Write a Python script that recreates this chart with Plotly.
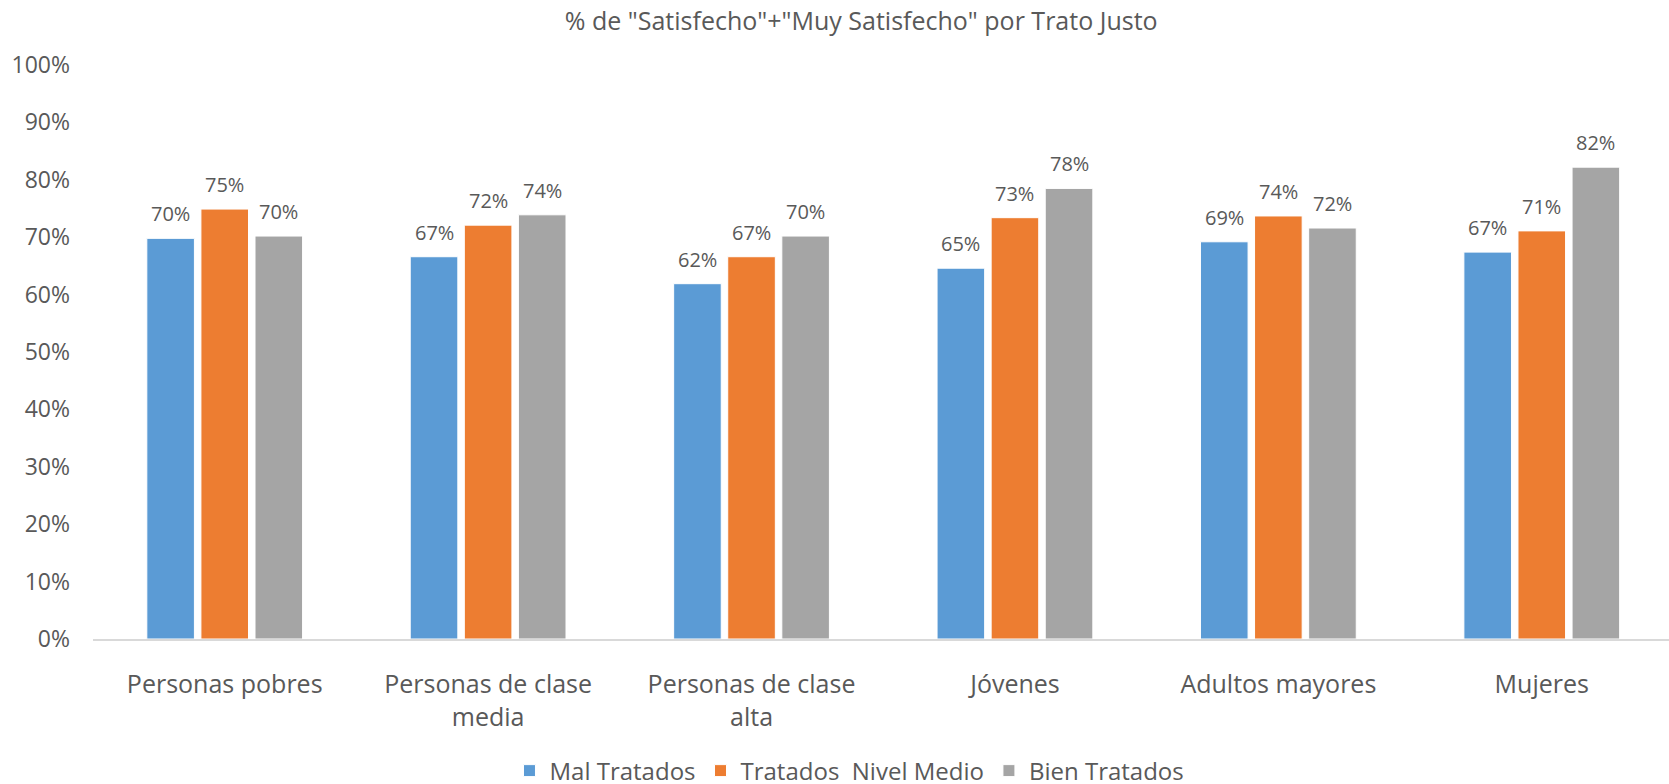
import plotly.graph_objects as go

categories = ["Personas pobres", "Personas de clase<br>media", "Personas de clase<br>alta",
              "Jóvenes", "Adultos mayores", "Mujeres"]
series_names = ["Mal Tratados", "Tratados  Nivel Medio", "Bien Tratados"]
mal_tratados = [0.698, 0.666, 0.619, 0.646, 0.692, 0.674]
nivel_medio = [0.749, 0.721, 0.666, 0.734, 0.737, 0.711]
bien_tratados = [0.702, 0.739, 0.702, 0.785, 0.716, 0.822]
y_ticks = [0, 0.1, 0.2, 0.3, 0.4, 0.5, 0.6, 0.7, 0.8, 0.9, 1.0]
colors = ["#5B9BD5", "#ED7D31", "#A5A5A5"]

FONT = "Open Sans"
TXT = "#595959"
BARGAP = 0.384

fig = go.Figure()
all_series = [mal_tratados, nivel_medio, bien_tratados]
for name, vals, col in zip(series_names, all_series, colors):
    fig.add_trace(go.Bar(
        x=categories, y=vals, name=name,
        marker=dict(color=col, line=dict(color="white", width=1)),
    ))

# value labels placed above each bar
slot = (1 - BARGAP) / len(all_series)
annotations = []
for si, vals in enumerate(all_series):
    off = (si - (len(all_series) - 1) / 2) * slot
    for ci, v in enumerate(vals):
        annotations.append(dict(
            x=ci + off, y=v, xref="x", yref="y",
            text=f"{round(v * 100):d}%", showarrow=False,
            yanchor="bottom", yshift=9,
            font=dict(family=FONT, size=20, color=TXT),
        ))

fig.update_layout(
    width=1669, height=794,
    margin=dict(l=93, r=0, t=65, b=142),
    paper_bgcolor="white", plot_bgcolor="white",
    barmode="group", bargap=BARGAP, bargroupgap=0.12,
    title=dict(text='% de "Satisfecho"+"Muy Satisfecho" por Trato Justo',
               x=0.516, xanchor="center", y=0.973, yanchor="middle",
               font=dict(family=FONT, size=25, color=TXT)),
    font=dict(family=FONT, color=TXT),
    showlegend=True,
    legend=dict(orientation="h", x=0.48, xanchor="center", y=-0.23, yanchor="middle",
                font=dict(family=FONT, size=24, color=TXT), itemwidth=30,
                traceorder="normal"),
    annotations=annotations,
)
fig.update_xaxes(
    range=[-0.5, 5.483], showline=True, linecolor="#D9D9D9", linewidth=2,
    showgrid=False, ticks="", tickfont=dict(family=FONT, size=25, color=TXT),
    ticklabelstandoff=22, automargin=False,
)
fig.update_yaxes(
    range=[0, 1], tickvals=y_ticks, tickformat=".0%", showgrid=False,
    zeroline=False, showline=False, ticks="",
    tickfont=dict(family=FONT, size=23, color=TXT), ticklabelstandoff=22,
    automargin=False,
)

fig.write_html("out.html", config={"displayModeBar": False},
               post_script="document.body.style.margin='0';document.body.style.overflow='hidden';")
